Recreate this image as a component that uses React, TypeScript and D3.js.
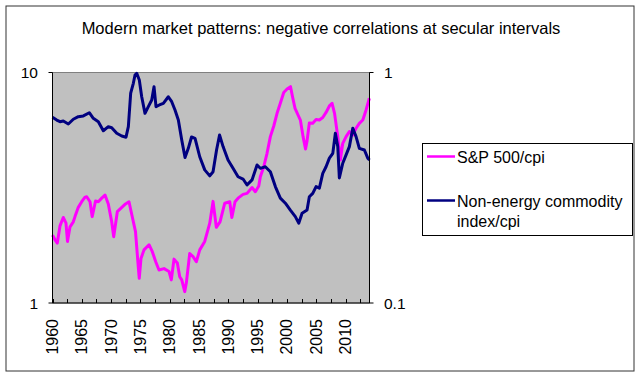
import React from "react";
import * as d3 from "d3";

// S&P 500 / CPI (left axis, log)
const spYears = [1960.0,1960.43,1960.82,1961.28,1961.84,1962.3,1962.56,1962.99,1963.55,1963.84,1964.4,1964.98,1965.55,1965.84,1966.4,1966.77,1967.34,1967.82,1968.4,1968.96,1969.52,1970.1,1970.44,1971.06,1971.69,1972.46,1973.05,1973.57,1974.16,1974.68,1974.8,1975.1,1975.61,1976.47,1977.03,1977.61,1978.17,1979.03,1979.88,1980.27,1980.73,1981.3,1981.71,1982.05,1982.56,1982.83,1983.41,1983.98,1984.54,1985.12,1985.97,1986.83,1987.39,1987.95,1988.58,1989.39,1990.24,1990.6,1991.14,1991.66,1992.51,1993.19,1994.04,1994.61,1995.19,1995.46,1996.04,1996.6,1997.17,1997.75,1998.31,1998.87,1999.45,2000.02,2000.61,2000.96,2001.38,2001.89,2002.29,2002.75,2003.17,2003.43,2003.82,2004.4,2004.97,2005.53,2006.11,2006.67,2007.24,2007.7,2008.12,2008.67,2009.11,2009.52,2010.09,2010.65,2011.23,2011.79,2012.35,2012.94,2013.5,2014.06];
const spValues = [1.97,1.88,1.82,2.16,2.35,2.22,1.85,2.14,2.25,2.37,2.6,2.75,2.88,2.89,2.75,2.37,2.77,2.75,2.85,2.94,2.69,2.25,1.94,2.49,2.58,2.69,2.75,2.39,2.04,1.39,1.28,1.56,1.7,1.79,1.67,1.51,1.39,1.41,1.37,1.26,1.55,1.49,1.3,1.26,1.12,1.22,1.64,1.59,1.51,1.7,1.85,2.22,2.76,2.13,2.25,2.71,2.75,2.35,2.75,2.85,2.96,2.99,3.17,3.04,3.22,3.53,3.9,4.46,5.27,5.86,6.65,7.35,8.19,8.48,8.68,7.83,6.99,6.54,6.22,5.27,4.66,5.05,6.04,6.02,6.25,6.22,6.38,6.71,7.16,7.35,6.65,5.27,4.17,4.93,5.27,5.54,5.36,5.73,6.02,6.22,6.88,7.73];

// Non-energy commodity index / CPI (right axis, log)
const comYears = [1960.0,1960.72,1961.28,1961.84,1962.7,1963.55,1964.4,1965.26,1966.28,1966.96,1967.82,1968.67,1969.52,1970.1,1970.96,1971.81,1972.54,1972.94,1973.34,1973.79,1974.08,1974.37,1974.81,1975.22,1975.78,1976.35,1976.93,1977.32,1977.66,1978.23,1978.91,1979.76,1980.34,1980.9,1981.47,1982.05,1982.61,1983.17,1983.72,1984.32,1985.12,1985.97,1986.83,1987.39,1987.99,1988.5,1989.1,1989.95,1990.8,1991.66,1992.51,1993.19,1994.04,1994.9,1995.46,1996.31,1997.17,1998.02,1998.87,1999.73,2000.58,2001.43,2002.01,2002.58,2003.43,2003.82,2004.4,2004.97,2005.53,2006.11,2006.67,2007.24,2007.82,2008.26,2008.67,2008.94,2009.52,2010.09,2010.65,2011.23,2011.79,2012.35,2013.21,2013.79,2014.08];
const comValues = [0.639,0.622,0.612,0.616,0.598,0.627,0.643,0.648,0.669,0.633,0.612,0.559,0.582,0.576,0.545,0.53,0.524,0.582,0.813,0.898,0.975,0.992,0.928,0.785,0.665,0.711,0.76,0.868,0.711,0.723,0.735,0.785,0.747,0.688,0.622,0.51,0.428,0.469,0.525,0.518,0.431,0.378,0.356,0.371,0.461,0.536,0.477,0.417,0.384,0.353,0.345,0.325,0.342,0.397,0.384,0.39,0.371,0.32,0.285,0.271,0.253,0.237,0.222,0.245,0.253,0.289,0.299,0.32,0.315,0.365,0.39,0.425,0.446,0.545,0.477,0.349,0.404,0.439,0.477,0.573,0.527,0.469,0.461,0.425,0.417];

const yearLabels = ["1960","1965","1970","1975","1980","1985","1990","1995","2000","2005","2010"];
const leftTicks = [1, 10];
const rightTicks = [0.1, 1];
const seriesNames = ["S&P 500/cpi", "Non-energy commodity", "index/cpi"];
const titleText = "Modern market patterns: negative correlations at secular intervals";

const FONT = "'Liberation Sans', Arial, sans-serif";
const PINK = "#FF00FF";
const NAVY = "#000080";

export default function App() {
  const L = 52.5, R = 369.5, T = 72.5, B = 303;
  const nMonths = 649;
  const x = d3.scaleLinear().domain([1960, 1960 + nMonths / 12]).range([L, R]);
  const yL = d3.scaleLog().domain([1, 10]).range([B, T]);
  const yR = d3.scaleLog().domain([0.1, 1]).range([B, T]);

  const spLine = d3.line<number>().x((_, i) => x(spYears[i])).y((d) => yL(d));
  const comLine = d3.line<number>().x((_, i) => x(comYears[i])).y((d) => yR(d));

  const tickYears = d3.range(0, 22).map((i) => 1960 + i * 2.5);

  return (
    <svg width={640} height={376} style={{ position: "absolute", left: 0, top: 0, background: "#fff" }} fontFamily={FONT}>
      <rect x={6} y={6} width={628} height={365} fill="#fff" stroke="#333" strokeWidth={1} />
      <text x={321} y={34} textAnchor="middle" fontSize={16.5} fill="#000">{titleText}</text>

      <rect x={L} y={T} width={R - L} height={B - T} fill="#C0C0C0" stroke="#808080" strokeWidth={1} />

      <path d={spLine(spValues) || ""} fill="none" stroke={PINK} strokeWidth={3} strokeLinejoin="round" />
      <path d={comLine(comValues) || ""} fill="none" stroke={NAVY} strokeWidth={3} strokeLinejoin="round" />

      {/* axes */}
      <line x1={L} y1={T} x2={L} y2={B} stroke="#000" strokeWidth={1} />
      <line x1={R} y1={T} x2={R} y2={B} stroke="#000" strokeWidth={1} />
      <line x1={L} y1={B} x2={R} y2={B} stroke="#000" strokeWidth={1} />
      {tickYears.map((t) => (
        <line key={t} x1={Math.round(x(t)) + 0.5} x2={Math.round(x(t)) + 0.5} y1={B} y2={B - 4} stroke="#000" strokeWidth={1} />
      ))}
      {leftTicks.map((v) => (
        <line key={"lt" + v} x1={L - 4} x2={L} y1={yL(v)} y2={yL(v)} stroke="#000" />
      ))}
      {rightTicks.map((v) => (
        <line key={"rt" + v} x1={R} x2={R + 4} y1={yR(v)} y2={yR(v)} stroke="#000" />
      ))}
      {yearLabels.map((lab) => {
        const px = x(+lab);
        return (
          <text key={lab} transform={`translate(${px + 5.5},319) rotate(-90)`} textAnchor="end" fontSize={16} fill="#000">{lab}</text>
        );
      })}
      {leftTicks.map((v) => (
        <text key={"ll" + v} x={38} y={yL(v) + 5.5} textAnchor="end" fontSize={15.5} fill="#000">{String(v)}</text>
      ))}
      {rightTicks.map((v) => (
        <text key={"rl" + v} x={384} y={yR(v) + 5.5} textAnchor="start" fontSize={15.5} fill="#000">{String(v)}</text>
      ))}

      {/* legend */}
      <rect x={422.5} y={143.5} width={210} height={92} fill="#fff" stroke="#000" strokeWidth={1} />
      <line x1={427} x2={455} y1={156.5} y2={156.5} stroke={PINK} strokeWidth={2.5} />
      <text x={457} y={162.5} fontSize={16} fill="#000">{seriesNames[0]}</text>
      <line x1={427} x2={455} y1={200.5} y2={200.5} stroke={NAVY} strokeWidth={2.5} />
      <text x={457} y={206.5} fontSize={16} fill="#000">{seriesNames[1]}</text>
      <text x={457} y={227} fontSize={16} fill="#000">{seriesNames[2]}</text>
    </svg>
  );
}
